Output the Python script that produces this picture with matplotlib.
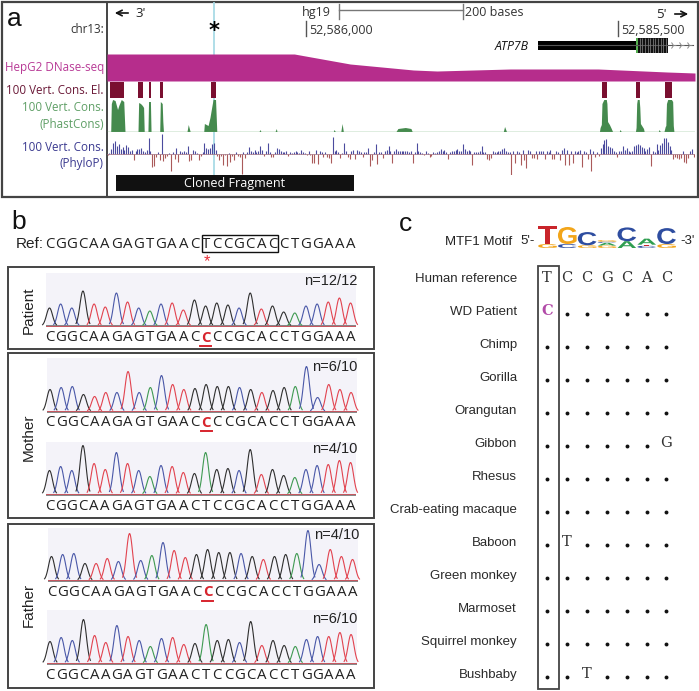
import numpy as np
import matplotlib
matplotlib.use('Agg')
import matplotlib.pyplot as plt
from matplotlib.patches import Rectangle, PathPatch
from matplotlib.textpath import TextPath
from matplotlib.font_manager import FontProperties
from matplotlib.transforms import Affine2D

W, H = 699, 691

# Panel a: positions are bases downstream of chr13:52,586,000
dnase_pos = [-321, -19, 71, 173, 211, 329, 471, 582, 627]
dnase_val = [27, 27, 17, 11, 10, 12, 12, 9, 8]

element_start = [-316, -271, -254, -235, -153, 477, 532, 579]
element_end = [-294, -263, -250, -231, -145, 485, 538, 590]

phast_pos = [-315, -314, -312, -308, -304, -302, -298, -294, -292,
             -271, -270, -267, -264, -262, -261, -255, -254, -251, -250,
             -236, -235, -232, -231, -230, -192, -190, -187,
             -165, -164, -158, -155, -152, -150, -146, -144,
             -76, -74, -73, -50, -48, -47, 44, 45, 47, 56, 58, 60,
             145, 148, 160, 169, 171, 318, 320, 323,
             473, 474, 476, 477, 480, 484, 485, 486, 489, 492, 494, 505, 506, 508,
             531, 532, 533, 534, 537, 538, 539, 541, 544, 545, 568, 569, 571,
             577, 579, 580, 581, 583, 589, 591, 592, 593]
phast_val = [0, 28, 32, 31, 22, 26, 32, 30, 0,
             0, 29, 28, 26, 24, 0, 0, 30, 30, 0,
             0, 30, 28, 10, 0, 0, 7, 0,
             0, 8, 6, 14, 25, 32, 32, 0,
             0, 2, 0, 0, 3, 0, 0, 2, 0, 0, 8, 0,
             0, 3, 4, 3, 0, 0, 5, 0,
             0, 4, 7, 28, 32, 32, 28, 10, 7, 3, 0, 0, 2, 0,
             0, 4, 28, 32, 32, 24, 8, 6, 3, 0, 0, 2, 0,
             0, 5, 6, 28, 32, 32, 30, 6, 0]

phylop_start = -320
phylop_step = 3
phylop_val = [-1, 1, 5, 11, 13, 8, 10, 5, 7, 4, 9, 7, 3, 4, -6, 3, 5, 5, 6, 3,
              2, 4, 16, 3, -13, -12, -3, 2, -6, 20, -7, -4, -2, 1, -17, 2, -5, 6, -8, 3,
              2, 3, 2, 8, -7, -6, 4, 3, 1, -6, -2, 2, 11, 6, 5, 6, 10, 11, 4, -2,
              -6, -2, -11, -1, -12, 1, -8, -2, -6, 2, -2, -3, -20, 2, -4, 2, 7, 3, 2, 4,
              2, 3, 8, 4, -2, 3, 11, 2, -3, -3, 2, 6, 5, 3, 2, 2, 3, -2, 2, 1,
              2, 3, 2, 1, 4, 2, 1, -1, 3, -1, -9, -9, 4, -10, 3, 2, -3, 2, -3, -4,
              -9, 17, 3, 4, 2, -4, 1, 11, 3, -3, -5, 3, 4, -5, 4, 3, 2, -3, 2, 2,
              6, -12, -6, 2, 10, -10, 2, 2, -4, 3, 4, 8, 3, -9, 3, 5, 3, 3, 3, 3,
              3, 3, 2, 3, -9, 2, 11, 3, 2, 1, -1, 3, 1, -3, -2, 2, 1, 2, 3, 5,
              3, 4, 2, -5, 2, 3, 3, 4, 5, 3, 3, 10, 5, 3, 4, 3, -11, 2, 2, 2,
              3, 8, 2, 2, -5, -6, -4, 3, 2, 2, 3, 3, 5, 6, 3, 2, 2, -21, 3, -9,
              3, 2, -11, 4, -6, -14, 4, 3, -4, -4, 3, -5, 3, 3, 3, -5, 3, 2, 4, -5,
              -5, 3, 2, -6, 4, 6, -11, 4, -11, 3, -9, 3, 2, 3, 4, -13, 3, 2, -5, 5,
              -17, 3, -3, 2, -2, 6, 10, 14, 15, 8, 7, 6, 3, 2, -3, 3, 3, 8, 4, 6,
              3, 2, 3, 8, 9, 10, 9, 7, 6, 3, 5, 7, -12, 3, 2, 10, 4, 9, 11, 16,
              16, 12, 8, 4, -5, -3, -4, -5, -4, 3, -8, -9, -4, 3, 5, -3]

# Panel b
ref_seq = 'CGGCAAGAGTGAACTCCGCACCTGGAAA'
alt_seq = 'CGGCAAGAGTGAACCCCGCACCTGGAAA'
patient_peaks = [18, 22, 18, 35, 22, 19, 33, 24, 18, 15, 22, 23, 16, 26,
                 20, 23, 21, 18, 33, 17, 20, 14, 13, 20, 22, 24, 28, 23]
mother_alt_peaks = [22, 24, 25, 17, 15, 19, 19, 40, 19, 24, 36, 27, 22, 23,
                    27, 25, 25, 24, 22, 19, 21, 24, 25, 45, 14, 27, 22, 19]
mother_ref_peaks = [24, 28, 24, 49, 31, 25, 42, 31, 24, 18, 29, 28, 22, 21,
                    42, 25, 26, 24, 45, 20, 25, 19, 17, 25, 29, 30, 34, 32]
father_alt_peaks = [24, 26, 27, 17, 17, 22, 19, 47, 20, 25, 38, 30, 23, 26,
                    31, 28, 28, 27, 24, 21, 24, 26, 27, 50, 16, 31, 24, 21]
father_ref_peaks = [22, 26, 23, 44, 28, 21, 38, 27, 23, 17, 25, 26, 19, 20,
                    39, 23, 24, 21, 42, 18, 23, 18, 17, 24, 27, 27, 31, 29]

# Panel c
species = ['Human reference', 'WD Patient', 'Chimp', 'Gorilla', 'Orangutan', 'Gibbon',
           'Rhesus', 'Crab-eating macaque', 'Baboon', 'Green monkey', 'Marmoset',
           'Squirrel monkey', 'Bushbaby']
alignment = ['TCCGCAC', 'C......', '.......', '.......', '.......', '......G',
             '.......', '.......', '.T.....', '.......', '.......', '.......', '..T....']
motif_stacks = [[('G', 0.36), ('T', 1.64)],
                [('C', 0.36), ('G', 1.55)],
                [('G', 0.25), ('C', 1.2)],
                [('G', 0.22), ('A', 0.25), ('C', 0.1), ('G', 0.15)],
                [('A', 0.62), ('C', 1.25)],
                [('C', 0.2), ('T', 0.1), ('A', 0.55)],
                [('G', 0.36), ('C', 1.45)]]

SANS = 'Liberation Sans'
UCSC = 'Open Sans'
EDGE = '#444444'
base_colors = {'A': '#e2434f', 'C': '#2f2f2f', 'G': '#4a58a8', 'T': '#3f9a52'}
logo_colors = {'A': '#2f9e50', 'C': '#2e4da0', 'G': '#f2a51a', 'T': '#c9252b'}

fig = plt.figure(figsize=(W / 100, H / 100), dpi=100)


def px_axes(x0, y0, x1, y1, zorder=2):
    """Оси по прямоугольнику в пикселях картинки"""
    ax = fig.add_axes([x0 / W, 1 - y1 / H, (x1 - x0) / W, (y1 - y0) / H], zorder=zorder)
    ax.axis('off')
    ax.patch.set_alpha(0)
    return ax


canvas = px_axes(0, 0, W, H, zorder=1)
canvas.set_xlim(0, W)
canvas.set_ylim(H, 0)
# поверх хроматограмм, иначе фон закрывает подписи n=
overlay = px_axes(0, 0, W, H, zorder=5)
overlay.set_xlim(0, W)
overlay.set_ylim(H, 0)


def label(x, y, s, size=10, color='#222222', ha='left', family=SANS, **kw):
    canvas.text(x, y, s, fontsize=size, color=color, ha=ha, va='center', family=family, **kw)


def frame(x0, y0, x1, y1, lw=1.4, color=EDGE):
    canvas.add_patch(Rectangle((x0, y0), x1 - x0, y1 - y0, fill=False, ec=color, lw=lw))


def track_axes(y0, y1, ymin, ymax):
    ax = px_axes(107, y0, 695, y1)
    ax.set_xlim(-321, 627)
    ax.set_ylim(ymin, ymax)
    return ax


# --- panel a ---
frame(2, 2, 698, 197, lw=1.6)
canvas.plot([107, 107], [2, 197], color=EDGE, lw=1.4)
canvas.plot([213.5, 213.5], [3, 175], color='#a9dbe6', lw=1.3, zorder=5)
label(7, 19, 'a', size=19, color='#111111')
label(104, 29, 'chr13:', size=8.4, color='#333333', ha='right', family=UCSC)
label(104, 67.5, 'HepG2 DNase-seq', size=8.4, color='#b83a96', ha='right', family=UCSC)
label(104, 90, '100 Vert. Cons. El.', size=8.4, color='#6b1a38', ha='right', family=UCSC)
label(104, 107.5, '100 Vert. Cons.', size=8.4, color='#5f9f66', ha='right', family=UCSC)
label(104, 124, '(PhastCons)', size=8.4, color='#5f9f66', ha='right', family=UCSC)
label(104, 147, '100 Vert. Cons.', size=8.4, color='#3b3a90', ha='right', family=UCSC)
label(104, 163.5, '(PhyloP)', size=8.4, color='#3b3a90', ha='right', family=UCSC)

canvas.annotate('', xy=(112, 13), xytext=(131, 13), arrowprops=dict(arrowstyle='->', color='#111111', lw=1.2))
label(135, 13, "3'", size=9.5, family=UCSC)
canvas.annotate('', xy=(691, 14), xytext=(672, 14), arrowprops=dict(arrowstyle='->', color='#111111', lw=1.2))
label(656, 14, "5'", size=9.5, family=UCSC)
label(302, 12, 'hg19', size=9, color='#333333', family=UCSC)
canvas.plot([339, 463], [10, 10], color='#777777', lw=1)
canvas.plot([339, 339], [4, 19], color='#777777', lw=1)
canvas.plot([463, 463], [4, 19], color='#777777', lw=1)
label(465, 12, '200 bases', size=9, color='#333333', family=UCSC)
canvas.plot([306, 306], [21, 36], color='#555555', lw=1)
label(309, 30, '52,586,000', size=9, color='#333333', family=UCSC)
canvas.plot([618, 618], [21, 36], color='#555555', lw=1)
label(621, 30, '52,585,500', size=9, color='#333333', family=UCSC)
label(529, 46.5, 'ATP7B', size=8.8, color='#111111', ha='right', style='italic', family=UCSC)
canvas.text(214, 31, '*', fontsize=15, fontweight='bold', ha='center', va='center', family='DejaVu Sans', zorder=6)

gene_ax = track_axes(37, 53, 0, 16)
gene_ax.plot([374, 624], [8, 8], color='#555555', lw=0.8)
gene_ax.add_patch(Rectangle((374, 3.5), 158, 9, color='black', lw=0))
gene_ax.add_patch(Rectangle((532, 0.5), 52, 15, color='#111111', lw=0))
gene_ax.vlines(np.arange(538, 584, 4.2), 0.5, 15.5, color='#777777', lw=0.6)
gene_ax.add_patch(Rectangle((532, 0.5), 3.5, 15, color='#55b04f', lw=0))
gene_ax.plot([592, 605, 618], [8, 8, 8], ls='', marker='4', color='#888888', ms=5, mew=0.7)

dnase_ax = track_axes(54, 81, 0, 27)
dnase_ax.fill_between(dnase_pos, 0, dnase_val, color='#b62d8c', lw=0)

el_ax = track_axes(82, 97.5, 0, 1)
el_ax.bar(element_start, 1, width=np.array(element_end) - np.array(element_start),
          align='edge', color='#7a0f30', lw=0)

phast_ax = track_axes(99, 132, 0, 33)
phast_ax.fill_between(phast_pos, 0.5, np.array(phast_val) + 0.5, color='#458a4e', lw=0)
phast_ax.axhline(0.5, color='#5fa465', lw=1)

phylop_ax = track_axes(133, 175, -21, 21)
phylop_x = phylop_start + phylop_step * np.arange(len(phylop_val))
phylop_y = np.array(phylop_val)
phylop_ax.vlines(phylop_x[phylop_y > 0], 0, phylop_y[phylop_y > 0], color='#4b4b9e', lw=0.8)
phylop_ax.vlines(phylop_x[phylop_y < 0], phylop_y[phylop_y < 0], 0, color='#aa5a5a', lw=0.8)
phylop_ax.axhline(0, color='#a07080', lw=0.5)

canvas.add_patch(Rectangle((116, 175), 238, 16, color='#111111', lw=0, zorder=6))
canvas.text(235, 183.5, 'Cloned Fragment', color='white', fontsize=9, ha='center', va='center',
            family=UCSC, zorder=7)

# --- panel b ---
STEP = 11.15
label(11, 222, 'b', size=19, color='#111111')
label(16, 244, 'Ref:', size=11, color='#222222')
for i, base in enumerate(ref_seq):
    label(49.5 + STEP * i, 244, base, size=10.8, ha='center', family=UCSC)
frame(202, 235, 278, 252, lw=1.0, color='#111111')
canvas.text(207, 262, '*', color='#e8303a', fontsize=12, ha='center', va='center', family=SANS)


def chromatogram(seq, peaks, left, top, baseline, text_y, count, count_y, mutant=True):
    """Хроматограмма: пики по основаниям и подпись последовательности"""
    first = left + 3.5
    ax = px_axes(left, top, left + 310, baseline + 1, zorder=3)
    ax.set_xlim((left - first) / STEP, (left + 310 - first) / STEP)
    ax.set_ylim(-1, baseline - top)
    ax.add_patch(Rectangle((-1, 0), 30, baseline - top, color='#f4f3f9', lw=0, zorder=0))
    for i, (base, height) in enumerate(zip(seq, peaks)):
        t = np.linspace(i - 0.62, i + 0.62, 40)
        ax.plot(t, height * np.exp(-((t - i) / 0.27) ** 2 / 2), color=base_colors[base], lw=0.8, clip_on=False)
    ax.axhline(0, color='#666666', lw=1.1, zorder=1)
    ax.axhline(0.3, color='#e2434f', lw=0.5, zorder=1)
    for i, base in enumerate(seq):
        hit = mutant and i == 14
        label(first + STEP * i, text_y, base, size=10.8, ha='center', family=UCSC,
              color='#d7242d' if hit else '#222222', fontweight='bold' if hit else 'normal')
    if mutant:
        canvas.plot([first + STEP * 14 - 5.5, first + STEP * 14 + 5.5], [text_y + 8.5, text_y + 8.5], color='#d7242d', lw=1.4)
    overlay.text(left + 311, count_y, count, fontsize=10.5, color='#222222', ha='right', va='center', family=SANS)


frame(8, 267, 374, 349)
label(29, 310, 'Patient', size=11, ha='center', rotation=90)
chromatogram(alt_seq, patient_peaks, 46, 273, 326, 337.5, 'n=12/12', 281)
frame(8, 353, 374, 518)
label(29, 437, 'Mother', size=11, ha='center', rotation=90)
chromatogram(alt_seq, mother_alt_peaks, 46.5, 358, 411.5, 422.5, 'n=6/10', 367)
chromatogram(ref_seq, mother_ref_peaks, 46, 441.5, 494.5, 506, 'n=4/10', 449, mutant=False)
frame(8, 524, 374, 688)
label(29, 605, 'Father', size=11, ha='center', rotation=90)
chromatogram(alt_seq, father_alt_peaks, 48, 528, 580.5, 592.5, 'n=4/10', 535)
chromatogram(ref_seq, father_ref_peaks, 46.5, 610, 663.5, 675.5, 'n=6/10', 619, mutant=False)

# --- panel c ---
label(399, 224, 'c', size=19, color='#111111')
label(445, 242, 'MTF1 Motif', size=9.5)
label(520, 240.5, "5'-", size=9.5)
label(680, 240.5, "-3'", size=9.5)

logo_ax = px_axes(537.5, 226, 676.5, 248, zorder=3)
logo_ax.set_xlim(-0.5, 6.5)
logo_ax.set_ylim(0, 2)
logo_font = FontProperties(family=SANS, weight='bold')
for pos, stack in enumerate(motif_stacks):
    bottom = 0
    for letter, height in stack:
        path = TextPath((0, 0), letter, size=1, prop=logo_font)
        box = path.get_extents()
        tr = (Affine2D().translate(-box.x0, -box.y0).scale(0.94 / box.width, height / box.height)
              .translate(pos - 0.47, bottom) + logo_ax.transData)
        logo_ax.add_patch(PathPatch(path, color=logo_colors[letter], lw=0, transform=tr))
        bottom += height

table_ax = px_axes(538, 262, 680, 690, zorder=3)
table_ax.set_xlim((538 - 547) / 19.9, (680 - 547) / 19.9)
table_ax.set_ylim((690 - 279) / 33, (262 - 279) / 33)
for row, (name, seq) in enumerate(zip(species, alignment)):
    label(517, 279 + 33 * row, name, size=9.5, color='#2a2a2a', ha='right')
    for col, ch in enumerate(seq):
        if ch == '.':
            table_ax.plot(col, row + 0.06, 'o', color='#111111', ms=2.8, mew=0)
        else:
            patient = row == 1
            table_ax.text(col, row - 0.03, ch, fontsize=10.5, ha='center', va='center', family='DejaVu Serif',
                          color='#b24aa8' if patient else '#333333', fontweight='bold' if patient else 'normal')
frame(538, 266, 559, 689, lw=1.3)

fig.savefig('out.png', dpi=100, facecolor='white')
